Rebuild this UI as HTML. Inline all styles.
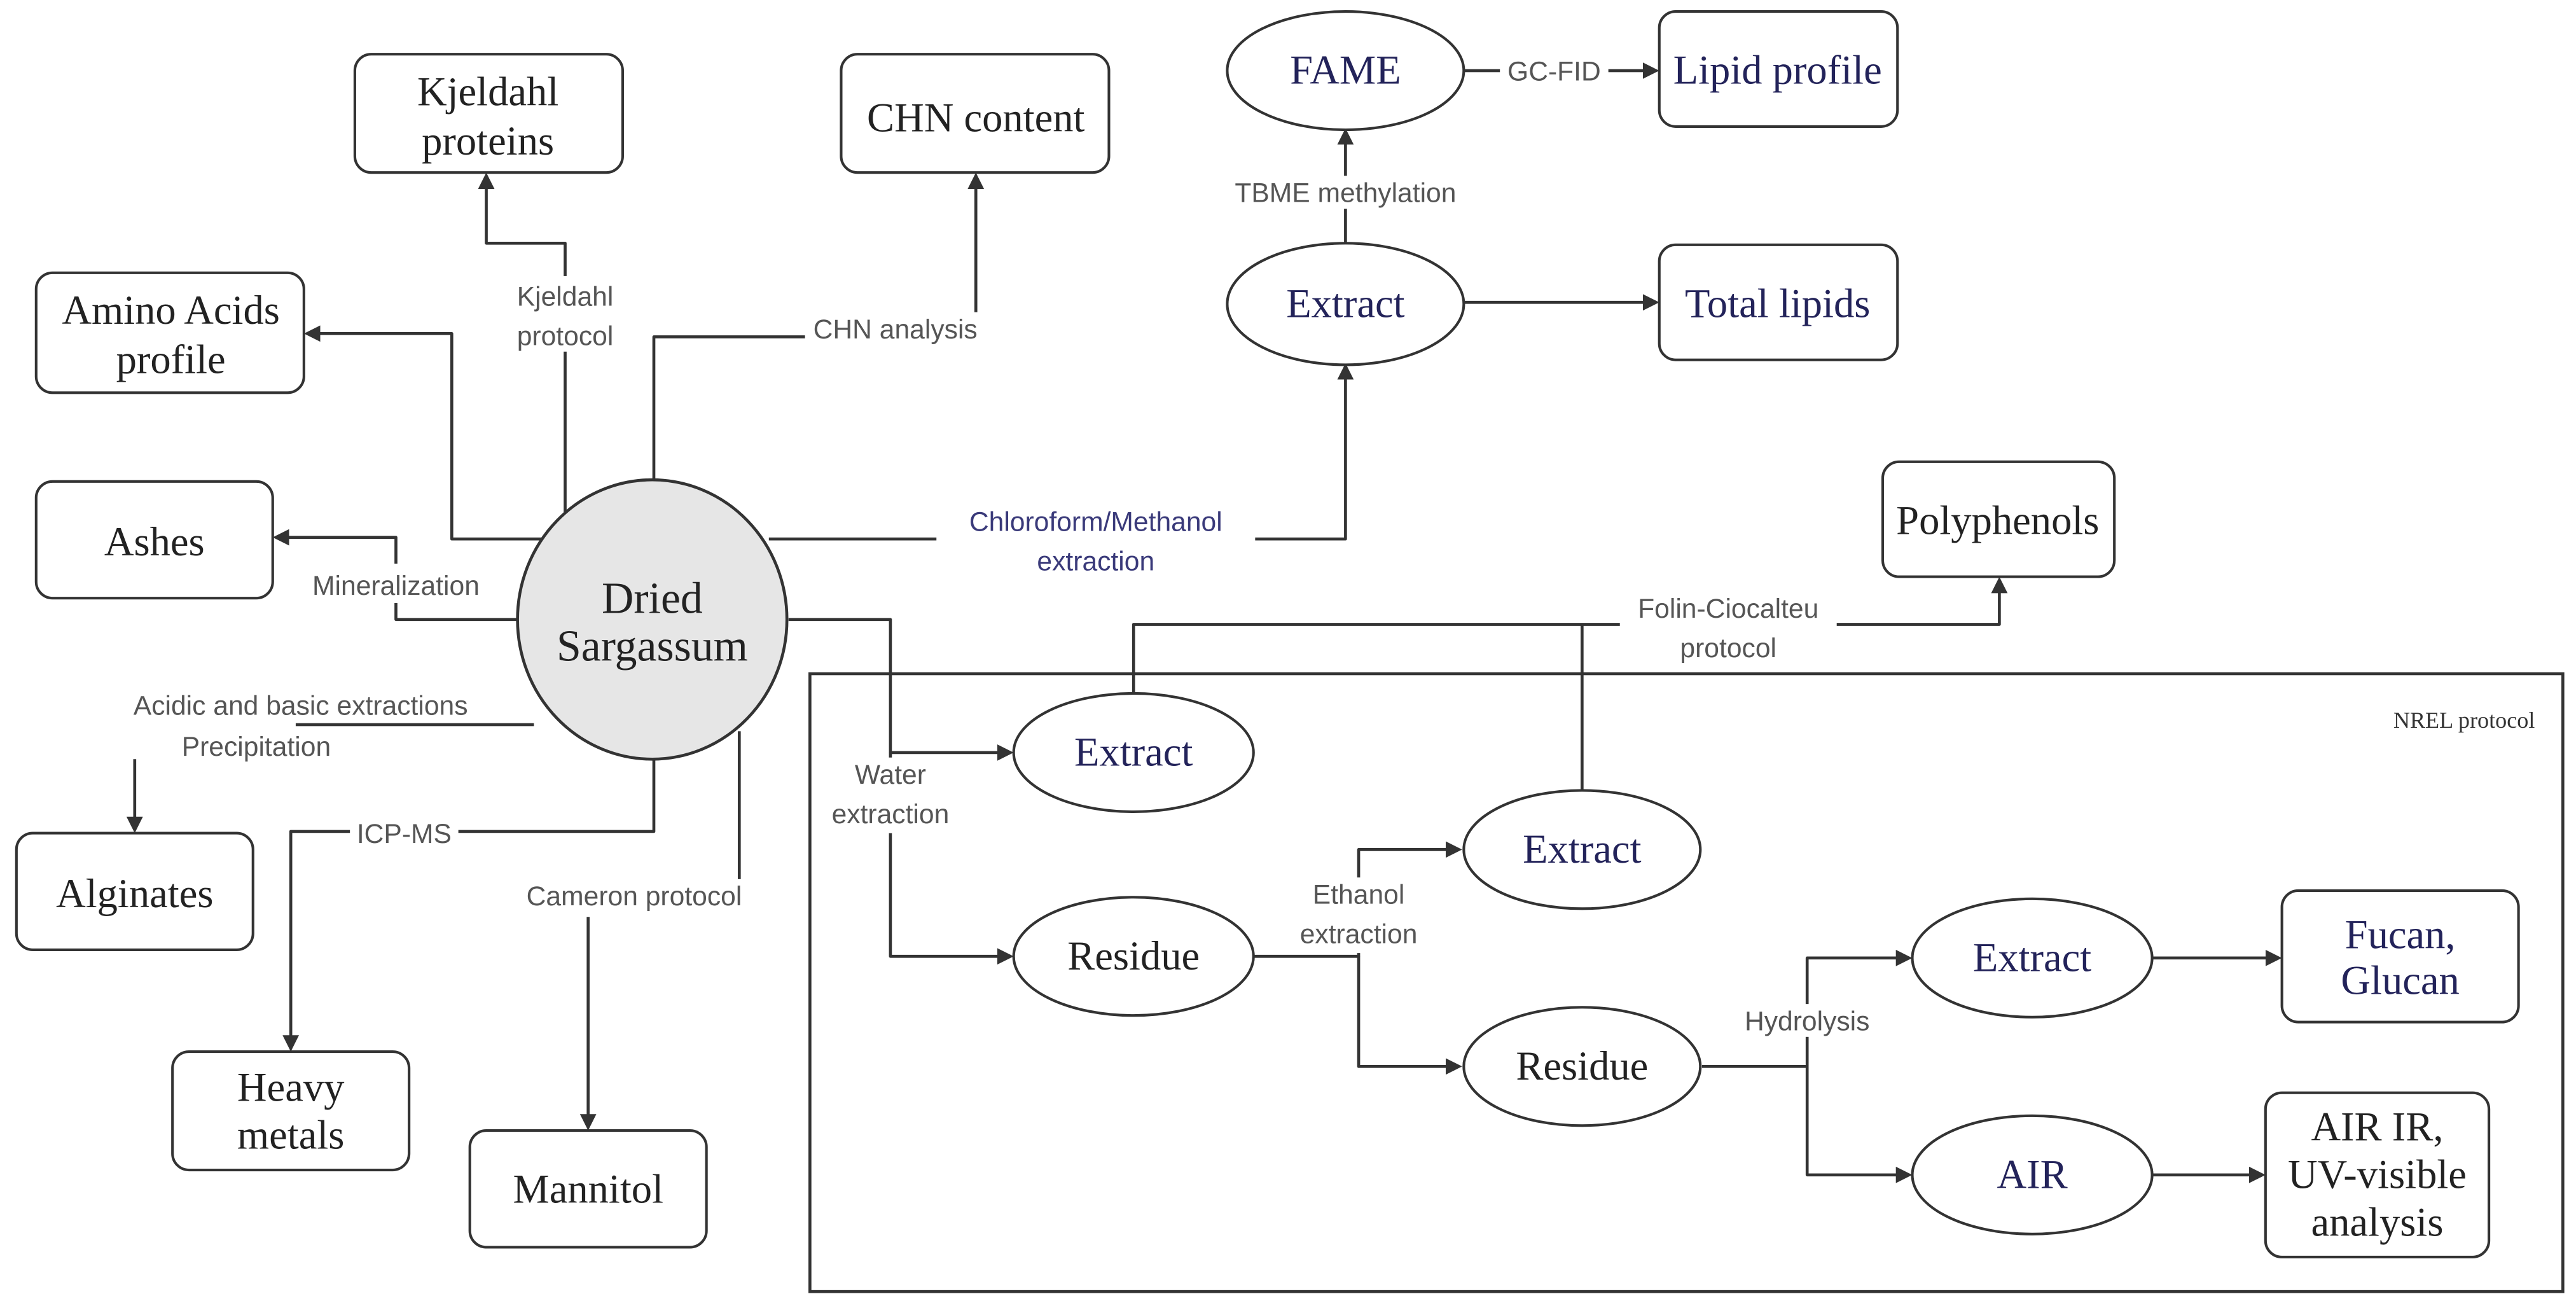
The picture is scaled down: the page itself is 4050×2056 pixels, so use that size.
<!DOCTYPE html>
<html><head><meta charset="utf-8"><style>
html,body{margin:0;padding:0;background:#fff;}
svg{display:block;}
.n{font-family:"Liberation Serif",serif;font-size:25px;fill:#222;text-anchor:middle;}
.nv{fill:#23235a;}
.e{font-family:"Liberation Sans","DejaVu Sans",sans-serif;font-size:16.5px;fill:#555;text-anchor:middle;}
.ev{fill:#3a3a7a;}
.b{fill:#fff;stroke:#333;stroke-width:1.6;}
.l{fill:none;stroke:#333;stroke-width:1.8;stroke-linejoin:round;}
</style></head><body>
<svg width="4050" height="2056" viewBox="0 0 1568 796" xmlns="http://www.w3.org/2000/svg">
<defs><marker id="a" markerWidth="10" markerHeight="10" refX="8" refY="5" orient="auto" markerUnits="userSpaceOnUse"><path d="M0,0 L10,5 L0,10 Z" fill="#333"/></marker></defs>
<rect width="1568" height="796" fill="#fff"/>
<rect x="493" y="410" width="1067" height="376" fill="none" stroke="#333" stroke-width="1.8"/>
<text x="1543" y="443" style="font-family:'Liberation Serif',serif;font-size:14px;fill:#333;text-anchor:end">NREL protocol</text>

<path class="l" marker-end="url(#a)" d="M344,312 V148 H296 V107"/>
<path class="l" d="M398,292 V205 H490"/>
<path class="l" marker-end="url(#a)" d="M594,190 V107"/>
<path class="l" marker-end="url(#a)" d="M344,328 H275 V203 H187"/>
<path class="l" marker-end="url(#a)" d="M315,377 H241 V327 H168"/>
<path class="l" d="M325,441 H180"/>
<path class="l" marker-end="url(#a)" d="M82,462 V505"/>
<path class="l" marker-end="url(#a)" d="M398,462 V506 H177 V638"/>
<path class="l" d="M450,445 V535"/>
<path class="l" marker-end="url(#a)" d="M358,558 V686"/>
<path class="l" marker-end="url(#a)" d="M468,328 H819 V223"/>
<path class="l" marker-end="url(#a)" d="M819,148 V80"/>
<path class="l" marker-end="url(#a)" d="M891,43 H1008"/>
<path class="l" marker-end="url(#a)" d="M891,184 H1008"/>
<path class="l" marker-end="url(#a)" d="M480,377 H542 V458 H615"/>
<path class="l" marker-end="url(#a)" d="M542,458 V582 H615"/>
<path class="l" marker-end="url(#a)" d="M690,422 V380 H1217 V353"/>
<path class="l" d="M963,481 V380"/>
<path class="l" marker-end="url(#a)" d="M763,582 H827 V517 H888"/>
<path class="l" marker-end="url(#a)" d="M827,582 V649 H888"/>
<path class="l" marker-end="url(#a)" d="M1036,649 H1100 V583 H1162"/>
<path class="l" marker-end="url(#a)" d="M1100,649 V715 H1162"/>
<path class="l" marker-end="url(#a)" d="M1310,583 H1387"/>
<path class="l" marker-end="url(#a)" d="M1310,715 H1377"/>

<g>
<rect x="305" y="168" width="78" height="46" fill="#fff"/>
<text class="e" x="344" y="186">Kjeldahl</text><text class="e" x="344" y="210">protocol</text>
<text class="e" x="545" y="206">CHN analysis</text>
<rect x="180" y="343" width="122" height="24" fill="#fff"/>
<text class="e" x="241" y="362">Mineralization</text>
<text class="e" x="183" y="435">Acidic and basic extractions</text>
<text class="e" x="156" y="460">Precipitation</text>
<rect x="213" y="497" width="66" height="20" fill="#fff"/>
<text class="e" x="246" y="513">ICP-MS</text>
<text class="e" x="386" y="551">Cameron protocol</text>
<rect x="570" y="307" width="194" height="46" fill="#fff"/>
<text class="e ev" x="667" y="323">Chloroform/Methanol</text><text class="e ev" x="667" y="347">extraction</text>
<rect x="742" y="107" width="154" height="20" fill="#fff"/>
<text class="e" x="819" y="123">TBME methylation</text>
<rect x="913" y="33" width="66" height="20" fill="#fff"/>
<text class="e" x="946" y="49">GC-FID</text>
<rect x="508" y="461" width="68" height="46" fill="#fff"/>
<text class="e" x="542" y="477">Water</text><text class="e" x="542" y="501">extraction</text>
<rect x="986" y="360" width="132" height="46" fill="#fff"/>
<text class="e" x="1052" y="376">Folin-Ciocalteu</text><text class="e" x="1052" y="400">protocol</text>
<rect x="783" y="534" width="88" height="46" fill="#fff"/>
<text class="e" x="827" y="550">Ethanol</text><text class="e" x="827" y="574">extraction</text>
<rect x="1055" y="611" width="90" height="20" fill="#fff"/>
<text class="e" x="1100" y="627">Hydrolysis</text>
</g>

<rect class="b" x="216" y="33" width="163" height="72" rx="10"/>
<text class="n" x="297" y="64">Kjeldahl</text><text class="n" x="297" y="94">proteins</text>
<rect class="b" x="512" y="33" width="163" height="72" rx="10"/>
<text class="n" x="594" y="80">CHN content</text>
<rect class="b" x="22" y="166" width="163" height="73" rx="10"/>
<text class="n" x="104" y="197">Amino Acids</text><text class="n" x="104" y="227">profile</text>
<rect class="b" x="22" y="293" width="144" height="71" rx="10"/>
<text class="n" x="94" y="338">Ashes</text>
<rect class="b" x="10" y="507" width="144" height="71" rx="10"/>
<text class="n" x="82" y="552">Alginates</text>
<rect class="b" x="105" y="640" width="144" height="72" rx="10"/>
<text class="n" x="177" y="670">Heavy</text><text class="n" x="177" y="699">metals</text>
<rect class="b" x="286" y="688" width="144" height="71" rx="10"/>
<text class="n" x="358" y="732">Mannitol</text>
<rect class="b" x="1010" y="7" width="145" height="70" rx="10"/>
<text class="n nv" x="1082" y="51">Lipid profile</text>
<rect class="b" x="1010" y="149" width="145" height="70" rx="10"/>
<text class="n nv" x="1082" y="193">Total lipids</text>
<rect class="b" x="1146" y="281" width="141" height="70" rx="10"/>
<text class="n" x="1216" y="325">Polyphenols</text>
<rect class="b" x="1389" y="542" width="144" height="80" rx="10"/>
<text class="n nv" x="1461" y="577">Fucan,</text><text class="n nv" x="1461" y="605">Glucan</text>
<rect class="b" x="1379" y="665" width="136" height="100" rx="10"/>
<text class="n" x="1447" y="694">AIR IR,</text><text class="n" x="1447" y="723">UV-visible</text><text class="n" x="1447" y="752">analysis</text>

<ellipse cx="397" cy="377" rx="82" ry="85" fill="#e6e6e6" stroke="#333" stroke-width="1.8"/>
<text class="n" x="397" y="373" style="font-size:27px">Dried</text><text class="n" x="397" y="402" style="font-size:27px">Sargassum</text>
<ellipse class="b" cx="819" cy="43" rx="72" ry="36"/><text class="n nv" x="819" y="51">FAME</text>
<ellipse class="b" cx="819" cy="185" rx="72" ry="37"/><text class="n nv" x="819" y="193">Extract</text>
<ellipse class="b" cx="690" cy="458" rx="73" ry="36"/><text class="n nv" x="690" y="466">Extract</text>
<ellipse class="b" cx="963" cy="517" rx="72" ry="36"/><text class="n nv" x="963" y="525">Extract</text>
<ellipse class="b" cx="690" cy="582" rx="73" ry="36"/><text class="n" x="690" y="590">Residue</text>
<ellipse class="b" cx="963" cy="649" rx="72" ry="36"/><text class="n" x="963" y="657">Residue</text>
<ellipse class="b" cx="1237" cy="583" rx="73" ry="36"/><text class="n nv" x="1237" y="591">Extract</text>
<ellipse class="b" cx="1237" cy="715" rx="73" ry="36"/><text class="n nv" x="1237" y="723">AIR</text>
</svg>
</body></html>
